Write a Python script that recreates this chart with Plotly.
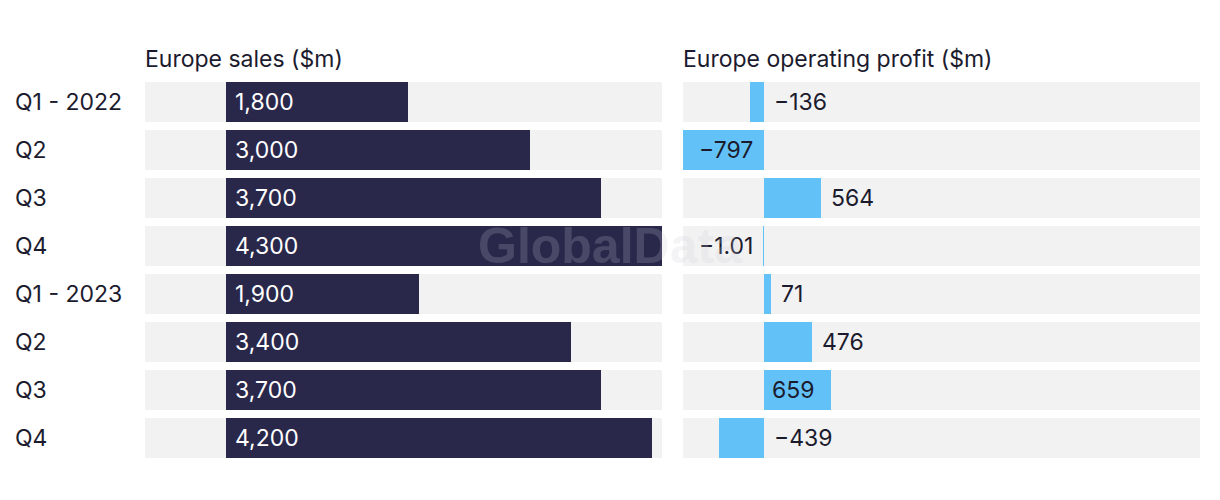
import plotly.graph_objects as go

categories = ["Q1 - 2022", "Q2", "Q3", "Q4", "Q1 - 2023", "Q2", "Q3", "Q4"]
sales = [1800, 3000, 3700, 4300, 1900, 3400, 3700, 4200]
profit = [-136, -797, 564, -1.01, 71, 476, 659, -439]
sales_title = "Europe sales ($m)"
profit_title = "Europe operating profit ($m)"

FONT = "Inter"
FS = 23
DARK = "#29284b"
BLUE = "#62c2f8"
GREY = "#f2f2f2"
TXT = "#1c1b2e"
W, H = 1220, 500
OFF = 8  # page offset of the plot in the browser
BW = 0.8333
xr = [-797, 4300]

ys = list(range(len(categories)))

fig = go.Figure()
fig.add_trace(go.Bar(x=sales, y=ys, orientation="h", marker=dict(color=DARK, line=dict(width=0)),
                     width=BW, xaxis="x", yaxis="y", hoverinfo="x", showlegend=False))
fig.add_trace(go.Bar(x=profit, y=ys, orientation="h", marker=dict(color=BLUE, line=dict(width=0)),
                     width=BW, xaxis="x2", yaxis="y", hoverinfo="x", showlegend=False))

d1 = [(145 - OFF) / W, (662 - OFF) / W]
d2 = [(683 - OFF) / W, (1200 - OFF) / W]
top, bot = 82 - OFF, 458 - OFF

shapes = []
for i in ys:
    for xr_ in ("x domain", "x2 domain"):
        shapes.append(dict(type="rect", xref=xr_, yref="y", x0=0, x1=1,
                           y0=i - BW / 2, y1=i + BW / 2, fillcolor=GREY,
                           line=dict(width=0), layer="below"))

def fmt(v):
    if abs(v) < 10 and v != int(v):
        s = f"{abs(v):.2f}"
    else:
        s = f"{abs(int(round(v))):,}"
    return ("\u2212" if v < 0 else "") + s

ann = []
for i, c in zip(ys, categories):
    ann.append(dict(xref="paper", yref="y", x=(13 - OFF) / W, y=i, text=c, showarrow=False,
                    xanchor="left", yanchor="middle", font=dict(family=FONT, size=FS, color=TXT)))
for i, v in zip(ys, sales):
    ann.append(dict(xref="x", yref="y", x=0, y=i, text=fmt(v), showarrow=False,
                    xanchor="left", yanchor="middle", xshift=7,
                    font=dict(family=FONT, size=FS, color="white")))
FIT = 600
for i, v in zip(ys, profit):
    if v < 0 and (abs(v) > FIT or abs(v) < 5):
        x, xa, xs = 0, "right", -9
    elif v >= 0 and v > FIT:
        x, xa, xs = 0, "left", 6
    else:
        x, xa, xs = max(v, 0), "left", 8
    ann.append(dict(xref="x2", yref="y", x=x, y=i, text=fmt(v), showarrow=False,
                    xanchor=xa, yanchor="middle", xshift=xs,
                    font=dict(family=FONT, size=FS, color=TXT)))
ann.append(dict(xref="paper", yref="paper", x=d1[0], y=1, yshift=7, text=sales_title, showarrow=False,
                xanchor="left", yanchor="bottom", xshift=-2, font=dict(family=FONT, size=FS, color=TXT)))
ann.append(dict(xref="paper", yref="paper", x=d2[0], y=1, yshift=7, text=profit_title, showarrow=False,
                xanchor="left", yanchor="bottom", xshift=-2, font=dict(family=FONT, size=FS, color=TXT)))
ann.append(dict(xref="paper", yref="paper", x=(610 - OFF) / W, y=(bot - (246 - OFF)) / (bot - top),
                text="<b>GlobalData</b>", showarrow=False, xanchor="center", yanchor="middle",
                opacity=0.2, font=dict(family="Liberation Sans", size=50, color="#cbcbd6")))

fig.update_layout(
    width=W, height=H,
    margin=dict(l=0, r=0, t=top, b=H - bot),
    paper_bgcolor="white", plot_bgcolor="white",
    barmode="overlay", bargap=0,
    xaxis=dict(domain=d1, range=xr, visible=False, fixedrange=True),
    xaxis2=dict(domain=d2, range=xr, visible=False, fixedrange=True),
    yaxis=dict(range=[len(ys) - 1 + BW / 2, -BW / 2], visible=False, fixedrange=True),
    shapes=shapes, annotations=ann,
)
fig.write_html("out.html")
